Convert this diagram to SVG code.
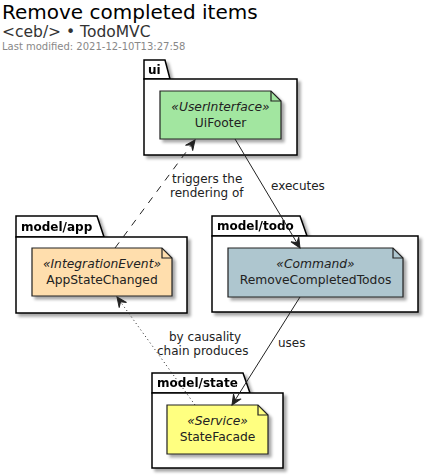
<svg xmlns="http://www.w3.org/2000/svg" width="434" height="475" viewBox="0 0 434 475">
<style>
text{font-family:"DejaVu Sans","Liberation Sans",sans-serif;}
.title{font-size:20px;fill:#000;}
.sub{font-size:15.5px;fill:#333;}
.mod{font-size:10px;fill:#888;}
.pkg{fill:#fff;stroke:#000;stroke-width:1.5;}
.pkgl{font-size:12px;font-weight:bold;fill:#000;}
.note{stroke:#222;stroke-width:1.2;}
.fold{fill:none;stroke:#222;stroke-width:1.2;}
.st{font-size:12.3px;font-style:italic;fill:#222;text-anchor:middle;}
.nm{font-size:12.3px;fill:#222;text-anchor:middle;}
.edge{fill:none;stroke:#222;stroke-width:1;}
.lbl{font-size:12px;fill:#222;}
</style>
<defs>
<filter id="sh" x="-10%" y="-10%" width="130%" height="130%">
<feGaussianBlur in="SourceAlpha" stdDeviation="1.5"/>
<feOffset dx="3" dy="3" result="b"/>
<feComponentTransfer><feFuncA type="linear" slope="0.35"/></feComponentTransfer>
<feMerge><feMergeNode/><feMergeNode in="SourceGraphic"/></feMerge>
</filter>
<marker id="ah" markerUnits="userSpaceOnUse" viewBox="-11 -6 12 12" markerWidth="12" markerHeight="12" refX="0" refY="0" orient="auto">
<path d="M0,0 L-10,-4.5 L-6,0 L-10,4.5 Z" fill="#222" stroke="#222" stroke-width="1" stroke-dasharray="none"/>
</marker>
</defs>

<text class="title" x="2" y="19">Remove completed items</text>
<text class="sub" x="2" y="37">&lt;ceb/&gt; • TodoMVC</text>
<text class="mod" x="2" y="50">Last modified: 2021-12-10T13:27:58</text>

<g id="pkg-ui" filter="url(#sh)">
<path class="pkg" d="M144,79 V60 H165 L170,79 Z"/>
<rect class="pkg" x="144" y="79" width="153" height="76"/>
<text class="pkgl" x="148" y="74">ui</text>
</g>
<g id="pkg-app" filter="url(#sh)">
<path class="pkg" d="M16,237 V216 H97 L104,237 Z"/>
<rect class="pkg" x="16" y="237" width="171" height="76"/>
<text class="pkgl" x="21" y="231">model/app</text>
</g>
<g id="pkg-todo" filter="url(#sh)">
<path class="pkg" d="M212,236 V216 H300 L307,236 Z"/>
<rect class="pkg" x="212" y="236" width="206" height="76"/>
<text class="pkgl" x="217" y="230">model/todo</text>
</g>
<g id="pkg-state" filter="url(#sh)">
<path class="pkg" d="M152,393 V373 H243 L250,393 Z"/>
<rect class="pkg" x="152" y="393" width="131" height="75"/>
<text class="pkgl" x="157" y="387">model/state</text>
</g>

<g id="UiFooter">
<path class="note" filter="url(#sh)" fill="#A2E6A0" d="M160,91 H271 L281,101 V139 H160 Z"/>
<path class="fold" d="M271,91 V101 H281"/>
<text class="st" x="220.5" y="111">«UserInterface»</text>
<text class="nm" x="220.5" y="127">UiFooter</text>
</g>
<g id="AppStateChanged">
<path class="note" filter="url(#sh)" fill="#FFDEAD" d="M32,248 H162 L172,258 V296 H32 Z"/>
<path class="fold" d="M162,248 V258 H172"/>
<text class="st" x="102" y="268">«IntegrationEvent»</text>
<text class="nm" x="102" y="284">AppStateChanged</text>
</g>
<g id="RemoveCompletedTodos">
<path class="note" filter="url(#sh)" fill="#AEC6CF" d="M228,248 H393 L403,258 V297 H228 Z"/>
<path class="fold" d="M393,248 V258 H403"/>
<text class="st" x="315.5" y="268">«Command»</text>
<text class="nm" x="315.5" y="284">RemoveCompletedTodos</text>
</g>
<g id="StateFacade">
<path class="note" filter="url(#sh)" fill="#FFFF80" d="M167,405 H258 L268,415 V454 H167 Z"/>
<path class="fold" d="M258,405 V415 H268"/>
<text class="st" x="217.5" y="425">«Service»</text>
<text class="nm" x="217.5" y="441">StateFacade</text>
</g>

<g id="connectors">
<path class="edge" d="M235,139 L300,248" marker-end="url(#ah)"/>
<text class="lbl" x="271" y="190">executes</text>
<path class="edge" d="M115,248 L195,140" stroke-dasharray="7,7" marker-end="url(#ah)"/>
<text class="lbl" x="172" y="183">triggers the</text>
<text class="lbl" x="170" y="197">rendering of</text>
<path class="edge" d="M300,297 L232,405" marker-end="url(#ah)"/>
<text class="lbl" x="278" y="347">uses</text>
<path class="edge" d="M195,405 L117,297" stroke-dasharray="1,3" marker-end="url(#ah)"/>
<text class="lbl" x="169" y="341">by causality</text>
<text class="lbl" x="157" y="355">chain produces</text>
</g>
</svg>
